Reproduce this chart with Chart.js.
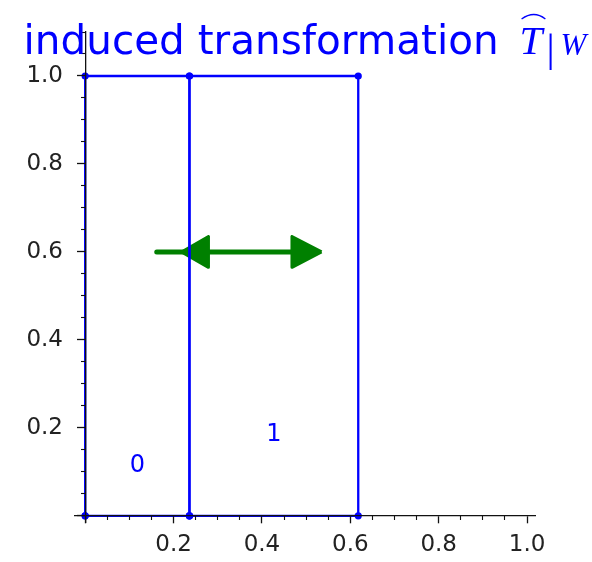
<!DOCTYPE html>
<html>
<head>
<meta charset="utf-8">
<script src="https://cdn.jsdelivr.net/npm/chart.js@4.4.0/dist/chart.umd.min.js"></script>
<style>
  html, body { margin: 0; padding: 0; background: #fff; }
  #wrap { width: 592px; height: 562px; }
</style>
</head>
<body>
<div id="wrap"><canvas id="chart"></canvas></div>
<script>
// interval boundaries of the tower (0.618^3, 0.618)
const cellEdges = [0, 0.236, 0.618];
const cellHeight = 1;
const cellNames = ['0', '1'];
const cellLabelX = [0.118, 0.427];
const cellLabelY = [0.113, 0.185];

// green double arrow at y = 0.6
const arrowShaft = [[0.162, 0.6], [0.5, 0.6]];
const arrowHeadLeft = [[0.218, 0.6], [0.279, 0.635], [0.279, 0.565], [0.218, 0.6]];
const arrowHeadRight = [[0.535, 0.6], [0.468, 0.635], [0.468, 0.565], [0.535, 0.6]];

// axes
const xRange = [-0.023, 1.018];
const yRange = [-0.014, 1.1];
const xMajor = [0, 0.2, 0.4, 0.6, 0.8, 1.0];
const xTickLabels = ['', '0.2', '0.4', '0.6', '0.8', '1.0'];
const yMajor = [0, 0.2, 0.4, 0.6, 0.8, 1.0];
const yTickLabels = ['', '0.2', '0.4', '0.6', '0.8', '1.0'];
const xMinor = [0.05, 0.1, 0.15, 0.25, 0.3, 0.35, 0.45, 0.5, 0.55, 0.65, 0.7, 0.75, 0.85, 0.9, 0.95];
const yMinor = [0.05, 0.1, 0.15, 0.25, 0.3, 0.35, 0.45, 0.5, 0.55, 0.65, 0.7, 0.75, 0.85, 0.9, 0.95, 1.05, 1.1];

const BLUE = '#0000ff';
const GREEN = '#008000';
const AXIS = '#111';

function pts(arr) {
    return arr.map(p => ({x: p[0], y: p[1]}));
}

// one closed outline per cell
const cellSets = [];
for (let i = 0; i < cellEdges.length - 1; i++) {
    const a = cellEdges[i], b = cellEdges[i + 1];
    cellSets.push({
        data: pts([[a, 0], [a, cellHeight], [b, cellHeight], [b, 0], [a, 0]]),
        borderColor: BLUE,
        backgroundColor: BLUE,
        borderWidth: 2.3,
        pointRadius: 3.6,
        pointBorderWidth: 0,
        tension: 0
    });
}

const headStyle = {
    borderColor: GREEN,
    backgroundColor: GREEN,
    borderWidth: 3,
    borderJoinStyle: 'round',
    fill: 'shape',
    pointRadius: 0,
    tension: 0
};

// cell names, drawn at data coordinates
const cellLabels = {
    id: 'cellLabels',
    afterDatasetsDraw(chart) {
        const ctx = chart.ctx;
        const xs = chart.scales.x, ys = chart.scales.y;
        ctx.save();
        ctx.fillStyle = BLUE;
        ctx.font = '24px "DejaVu Sans"';
        ctx.textAlign = 'center';
        ctx.textBaseline = 'middle';
        cellNames.forEach((name, i) => {
            ctx.fillText(name, xs.getPixelForValue(cellLabelX[i]), ys.getPixelForValue(cellLabelY[i]));
        });
        ctx.restore();
    }
};

// title with the math part  \widehat{T}|_W
const mathTitle = {
    id: 'mathTitle',
    afterDraw(chart) {
        const ctx = chart.ctx;
        const area = chart.chartArea;
        const base = 54;
        const plain = 'induced transformation';
        ctx.save();
        ctx.fillStyle = BLUE;
        ctx.strokeStyle = BLUE;
        ctx.textBaseline = 'alphabetic';
        ctx.textAlign = 'left';

        const fPlain = '40.5px "DejaVu Sans"';
        const fT = 'italic 41px "Liberation Serif"';
        const fBar = '41px "Liberation Serif"';
        const fSub = 'italic 31px "Liberation Serif"';
        const gapT = 21, gapBar = 4, gapSub = 6;
        ctx.font = fPlain; const wPlain = ctx.measureText(plain).width;
        ctx.font = fT; const wT = ctx.measureText('T').width;
        ctx.font = fBar; const wBar = ctx.measureText('|').width;
        ctx.font = fSub; const wSub = ctx.measureText('W').width;
        const total = wPlain + gapT + wT + gapBar + wBar + gapSub + wSub;
        let x = (area.left + area.right) / 2 - total / 2;

        ctx.font = fPlain;
        ctx.fillText(plain, x, base);
        x += wPlain + gapT;
        ctx.font = fT;
        ctx.fillText('T', x, base);
        // wide hat
        ctx.lineWidth = 1.3;
        ctx.beginPath();
        ctx.moveTo(x + 2, base - 35);
        ctx.quadraticCurveTo(x + wT / 2 + 3, base - 44, x + wT + 3, base - 35);
        ctx.stroke();
        x += wT + gapBar;
        ctx.font = fBar;
        ctx.fillText('|', x, base + 7);
        x += wBar + gapSub;
        ctx.font = fSub;
        ctx.fillText('W', x, base + 1);
        ctx.restore();
    }
};

function tickSetter(values) {
    return scale => { scale.ticks = values.map(v => ({value: v})); };
}

const tickFont = {family: 'DejaVu Sans', size: 23};

new Chart(document.getElementById('chart').getContext('2d'), {
    type: 'line',
    data: {
        datasets: [
            ...cellSets,
            {data: pts(arrowShaft), borderColor: GREEN, borderWidth: 5, pointRadius: 0, borderCapStyle: 'round'},
            Object.assign({data: pts(arrowHeadLeft)}, headStyle),
            Object.assign({data: pts(arrowHeadRight)}, headStyle)
        ]
    },
    options: {
        responsive: true,
        maintainAspectRatio: false,
        animation: false,
        layout: {padding: {left: 0, right: 57, top: 32, bottom: 40}},
        plugins: {legend: {display: false}, tooltip: {enabled: false}, title: {display: false}},
        scales: {
            x: {
                type: 'linear', min: xRange[0], max: xRange[1], position: {y: 0},
                border: {color: AXIS, width: 1.3, z: 1},
                grid: {drawOnChartArea: false, tickLength: 7, tickColor: AXIS, tickWidth: 1.3, z: 1},
                afterBuildTicks: tickSetter(xMajor),
                ticks: {
                    autoSkip: false, maxRotation: 0, padding: 8, color: '#222', font: tickFont,
                    callback: (v, i) => xTickLabels[i]
                }
            },
            xMinor: {
                type: 'linear', axis: 'x', min: xRange[0], max: xRange[1], position: {y: 0},
                border: {display: false},
                grid: {drawOnChartArea: false, tickLength: 4, tickColor: AXIS, tickWidth: 1.1, z: 1},
                afterBuildTicks: tickSetter(xMinor),
                ticks: {display: false, autoSkip: false}
            },
            y: {
                type: 'linear', min: yRange[0], max: yRange[1], position: {x: 0},
                border: {color: AXIS, width: 1.3, z: 1},
                grid: {drawOnChartArea: false, tickLength: 8, tickColor: AXIS, tickWidth: 1.3, z: 1},
                afterBuildTicks: tickSetter(yMajor),
                ticks: {display: false, autoSkip: false}
            },
            yMinor: {
                type: 'linear', axis: 'y', min: yRange[0], max: yRange[1], position: {x: 0},
                border: {display: false},
                grid: {drawOnChartArea: false, tickLength: 4, tickColor: AXIS, tickWidth: 1.1, z: 1},
                afterBuildTicks: tickSetter(yMinor),
                ticks: {display: false, autoSkip: false}
            },
            // labels of the y axis sit left of the chart area
            yLabels: {
                type: 'linear', axis: 'y', min: yRange[0], max: yRange[1], position: 'left',
                border: {display: false},
                grid: {display: false, drawTicks: false},
                afterBuildTicks: tickSetter(yMajor),
                afterFit: scale => { scale.width = 75; },
                ticks: {
                    autoSkip: false, padding: 12, color: '#222', font: tickFont,
                    callback: (v, i) => yTickLabels[i]
                }
            }
        }
    },
    plugins: [cellLabels, mathTitle]
});
</script>
</body>
</html>
